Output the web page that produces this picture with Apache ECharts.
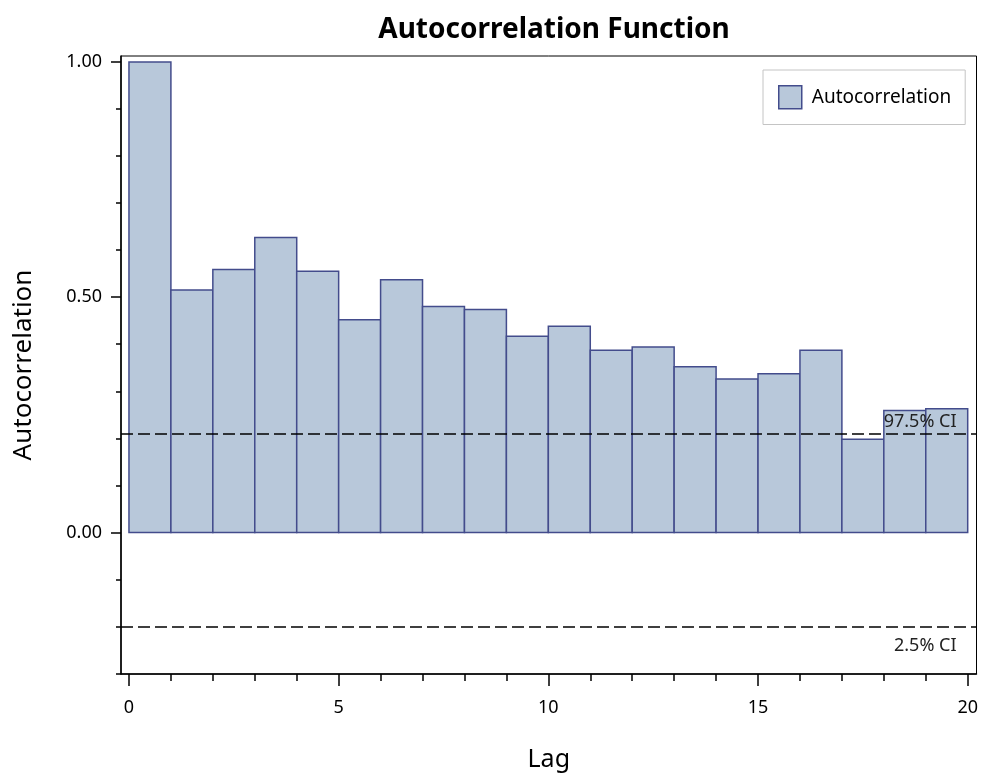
<!DOCTYPE html>
<html>
<head>
<meta charset="utf-8">
<script src="https://cdn.jsdelivr.net/npm/echarts@6/dist/echarts.min.js"></script>
<style>html,body{margin:0;padding:0;background:#fff;overflow:hidden}#c{width:981px;height:777px}</style>
</head>
<body>
<div id="c"></div>
<script>
var titleText = 'Autocorrelation Function';
var seriesName = 'Autocorrelation';
var lags = [0,1,2,3,4,5,6,7,8,9,10,11,12,13,14,15,16,17,18,19];
var acf = [1.000,0.515,0.559,0.627,0.555,0.452,0.537,0.480,0.474,0.417,0.438,0.387,0.394,0.352,0.326,0.337,0.387,0.198,0.259,0.263];
var ciUpper = 0.206;
var ciLower = -0.204;
var ciUpperLabel = '97.5% CI';
var ciLowerLabel = '2.5% CI';
var xMajorTicks = [0,5,10,15,20];
var xMinorTicks = [0,1,2,3,4,5,6,7,8,9,10,11,12,13,14,15,16,17,18,19,20];
var yMajorTicks = [0,0.5,1.0];
var yMinorTicks = [-0.3,-0.2,-0.1,0,0.1,0.2,0.3,0.4,0.5,0.6,0.7,0.8,0.9,1.0];
var xRange = [-0.19, 20.21];
var yRange = [-0.301, 1.0126];

var FILL = '#b8c8da', STROKE = '#434c8c', FONT = 'Noto Sans';
var chart = echarts.init(document.getElementById('c'), null, {renderer:'canvas', width:981, height:777});
var data = lags.map(function(l,i){return [l, acf[i]];});

var option = {
  backgroundColor:'#fff',
  animation:false,
  title:{text:titleText, left:549, textAlign:'center', top:11,
    textStyle:{fontFamily:FONT, fontWeight:'bold', fontSize:28, color:'#000'}},
  legend:{left:763, top:70, orient:'vertical', itemWidth:23, itemHeight:23, padding:[15,14,15,15],
    borderColor:'#c4c4c4', borderWidth:1, backgroundColor:'#fff', itemGap:8,
    textStyle:{fontFamily:FONT, fontSize:19, color:'#000', padding:[0,0,0,5]},
    data:[{name:seriesName, icon:'rect', itemStyle:{color:FILL, borderColor:STROKE, borderWidth:1.5}}]},
  grid:{left:121, top:56, width:857, height:624, show:true, borderColor:'#000', borderWidth:1, backgroundColor:'transparent'},
  xAxis:[{type:'value', min:xRange[0], max:xRange[1], position:'bottom',
      name:'Lag', nameLocation:'middle', nameGap:73,
      nameTextStyle:{fontFamily:FONT, fontSize:25, color:'#000'},
      axisLine:{show:true, onZero:false, lineStyle:{color:'#000', width:1.5}},
      axisTick:{show:true, length:12, customValues:xMajorTicks, lineStyle:{color:'#000', width:1.5}},
      axisLabel:{customValues:xMajorTicks, margin:25, fontFamily:FONT, fontSize:18, color:'#000'},
      splitLine:{show:false}},
    {type:'value', min:xRange[0], max:xRange[1], position:'bottom',
      axisLine:{show:false, onZero:false},
      axisTick:{show:true, length:7, customValues:xMinorTicks, lineStyle:{color:'#000', width:1.5}},
      axisLabel:{show:false}, splitLine:{show:false}}],
  yAxis:[{type:'value', min:yRange[0], max:yRange[1], position:'left',
      name:'Autocorrelation', nameLocation:'middle', nameGap:84,
      nameTextStyle:{fontFamily:FONT, fontSize:26, color:'#000'},
      axisLine:{show:true, onZero:false, lineStyle:{color:'#000', width:1.5}},
      axisTick:{show:true, length:10, customValues:yMajorTicks, lineStyle:{color:'#000', width:1.5}},
      axisLabel:{customValues:yMajorTicks, margin:19, fontFamily:FONT, fontSize:18, color:'#000',
        formatter:function(v){return v.toFixed(2);}},
      splitLine:{show:false}},
    {type:'value', min:yRange[0], max:yRange[1], position:'left',
      axisLine:{show:false, onZero:false},
      axisTick:{show:true, length:5, customValues:yMinorTicks, lineStyle:{color:'#000', width:1.5}},
      axisLabel:{show:false}, splitLine:{show:false}}],
  series:[{
    type:'custom', name:seriesName, xAxisIndex:0, yAxisIndex:0,
    encode:{x:0, y:1},
    itemStyle:{color:FILL, borderColor:STROKE, borderWidth:1.5},
    renderItem:function(params, api){
      var x0 = api.value(0), v = api.value(1);
      var p0 = api.coord([x0, v]);
      var p1 = api.coord([x0 + 1, 0]);
      return {type:'rect', shape:{x:p0[0], y:Math.min(p0[1],p1[1]), width:p1[0]-p0[0], height:Math.abs(p1[1]-p0[1])},
        style:{fill:FILL, stroke:STROKE, lineWidth:1.5}};
    },
    data:data,
    markLine:{silent:true, symbol:'none', animation:false,
      lineStyle:{color:'#000', type:[12,5], width:1.5},
      data:[
        {yAxis:ciUpper, label:{show:true, position:'insideEndTop', formatter:ciUpperLabel, distance:[20,3],
          fontFamily:FONT, fontSize:18, color:'#222'}},
        {yAxis:ciLower, label:{show:true, position:'insideEndBottom', formatter:ciLowerLabel, distance:[20,10],
          fontFamily:FONT, fontSize:18, color:'#222'}}
      ]}
  }]
};
chart.setOption(option);
</script>
</body>
</html>
